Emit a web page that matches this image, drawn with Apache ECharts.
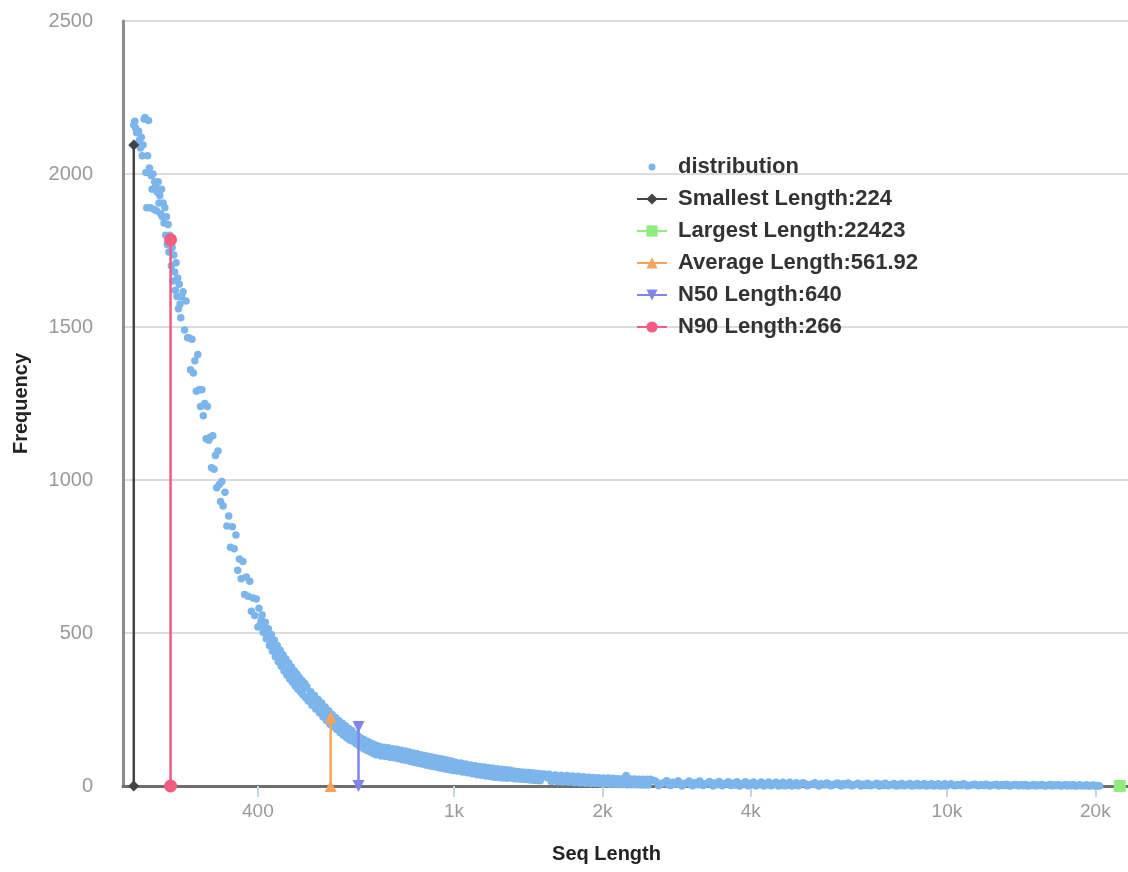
<!DOCTYPE html>
<html><head><meta charset="utf-8">
<script src="https://cdn.jsdelivr.net/npm/echarts@6/dist/echarts.min.js"></script>
<style>html,body{margin:0;padding:0;background:#fff}#c{width:1128px;height:872px}</style>
</head><body><div id="c"></div>
<script>
// ---- axis ticks ----
const xTickValues = [400, 1000, 2000, 4000, 10000, 20000];
const yTickStep = 500;
const yMaxValue = 2500;

// ---- summary statistics ----
const statNames = ['Smallest Length', 'Largest Length', 'Average Length', 'N50 Length', 'N90 Length'];
const statLengths = [224, 22423, 561.92, 640, 266];
const statTops = [2095, 0, 225, 193, 1785];

// ---- distribution (length -> frequency) ----
const lenA = [224,225,226,227,228,229,230,231,232,233,234,235,236,237,238,239,240,241,242,243,244,245,246,247,248,249,250,251,252,253,254,255,256,257,258,259,260,261,262,263,264,265,266,267,268,269,270,271,272,273,274,275,276,277,278,279,280];
const freqA = [2160,2172,2150,2135,2100,2140,2110,2085,2120,2060,2095,2180,2185,2005,1890,2060,2175,2020,1890,1995,1950,2000,1885,1975,1960,1880,1940,1975,1905,1930,1870,1950,1860,1905,1840,1890,1800,1860,1770,1835,1745,1800,1790,1700,1760,1650,1735,1680,1620,1710,1600,1660,1560,1640,1575,1530,1600];
const lenB = [282,284,286,288,290,292,294,296,298,300,302,304,306,308,310,312,314,316,318,320,322,324,326,328,330,332,334,336,338,340];
const freqB = [1615,1490,1585,1465,1465,1360,1460,1350,1390,1290,1410,1295,1240,1295,1210,1250,1135,1240,1130,1140,1040,1145,1035,1080,975,1095,985,930,995,915];
const lenC = [343,346,349,352,355,358,361,364,367,370,373,376,379,382,385,388,391,394,397,400];
const freqC = [960,850,882,780,847,775,820,705,742,677,734,626,683,620,669,571,614,557,611,520];
const lenD = [402,404,406,408,410,412,414,416,418,420,422,424,426,428,430,432,434,436,438,440,442,444,446,448,450,452,454,456,458,460,462,464,466,468,470,472,474,476,478,480,482,484,486,488,490,492,494,496,498,500];
const freqD = [581,526,542,559,502,520,535,481,495,514,459,478,495,441,458,476,422,442,459,406,425,444,391,408,429,376,395,415,362,383,402,350,370,389,339,358,377,327,347,366,316,336,354,307,325,344,297,317,335,288];
const lenE = [503,506,509,512,515,518,521,524,527,530,533,536,539,542,545,548,551,554,557,560,563,566,569,572,575,578,581,584,587,590,593,596,599,602,605,608,611,614,617,620,623,626,629,632,635,638,641,644,647,650,653,656,659,662,665,668,671,674,677,680,683,686,689,692,695,698,701];
const freqE = [324,278,293,308,264,282,296,252,270,283,239,257,271,226,244,258,214,232,246,202,219,234,194,211,224,185,201,214,175,192,205,166,184,197,158,175,189,150,168,181,146,161,171,139,154,164,132,146,157,125,141,152,120,136,147,115,130,142,111,126,138,106,122,134,102,118,130];
const lenF = [706,711,716,721,726,731,736,741,746,751,756,761,766,771,776,781,786,791,796,801,806,811,816,821,826,831,836,841,846,851,856,861,866,871,876,881,886,891,896,901,906,911,916,921,926,931,936,941,946,951,956,961,966,971,976,981,986,991,996,1001];
const freqF = [129,98,114,127,96,111,125,94,109,122,92,107,120,89,105,117,86,101,114,83,98,111,80,95,108,77,92,105,74,89,102,72,87,100,69,84,97,66,82,95,64,79,92,62,77,90,59,74,88,57,72,86,55,70,83,53,68,81,51,66];
const lenG = [1008,1016,1024,1032,1040,1048,1056,1064,1072,1080,1088,1096,1104,1112,1120,1128,1136,1144,1152,1160,1168,1176,1184,1192,1200,1208,1216,1224,1232,1240,1248,1256,1264,1272,1280,1288,1296,1304,1312,1320,1328,1336,1344,1352,1360,1368,1376,1384,1392,1400,1408,1416,1424,1432,1440,1448,1456,1464,1472,1480,1488,1496,1504];
const freqG = [78,49,62,75,46,59,72,43,56,69,40,53,66,37,50,64,35,48,62,33,46,60,31,45,58,29,43,56,28,41,55,26,40,53,25,38,52,26,37,49,24,36,47,23,35,46,22,34,45,21,33,44,20,32,43,19,30,42,18,29,41,17,28];
const lenH = [1515,1530,1545,1560,1575,1590,1605,1620,1635,1650,1665,1680,1695,1710,1725,1740,1755,1770,1785,1800,1815,1830,1845,1860,1875,1890,1905,1920,1935,1950,1965,1980,1995,2010,2025,2040,2055,2070,2085,2100,2115,2130,2145,2160,2175,2190,2205,2220,2235,2250,2265,2280,2295,2310,2325,2340,2355,2370,2385,2400,2415,2430,2445,2460,2475,2490,2505];
const freqH = [39,38,27,38,15,26,36,14,25,35,13,23,34,12,22,33,11,21,32,10,20,30,9,19,29,8,19,28,8,18,27,7,18,26,7,17,26,6,16,25,6,16,24,5,15,24,5,15,34,4,14,23,4,14,23,4,14,22,3,13,22,3,13,22,3,13,22];
const lenI = [2550,2600,2650,2700,2750,2800,2850,2900,2950,3000,3050,3100,3150,3200,3250,3300,3350,3400,3450,3500,3550,3600,3650,3700,3750,3800,3850,3900,3950,4000,4050,4100,4150,4200,4250,4300,4350,4400,4450,4500,4550,4600,4650,4700,4750,4800,4850,4900,4950,5000];
const freqI = [18,1,9,17,2,9,17,0,9,16,1,8,16,2,8,15,0,8,15,1,8,14,2,7,14,0,7,14,1,7,13,1,7,13,0,6,13,1,6,12,0,6,12,1,6,12,0,6,11,1];
const lenI2 = [2575,2625,2675,2725,2775,2825,2875,2925,2975,3025,3075,3125,3175,3225,3275,3325,3375,3425,3475,3525,3575,3625,3675,3725,3775,3825,3875,3925,3975,4025,4075,4125,4175,4225,4275,4325,4375,4425,4475,4525,4575,4625,4675,4725,4775,4825,4875,4925,4975];
const freqI2 = [13,5,12,4,12,5,11,4,11,5,11,4,10,4,10,5,10,4,9,4,9,4,9,3,9,4,8,3,8,4,8,3,8,3,7,3,7,3,7,3,7,2,7,3,6,2,6,3,6];
const lenJ = [5100,5200,5300,5400,5500,5600,5700,5800,5900,6000,6100,6200,6300,6400,6500,6600,6700,6800,6900,7000,7100,7200,7300,7400,7500,7600,7700,7800,7900,8000,8100,8200,8300,8400,8500,8600,8700,8800,8900,9000,9100,9200,9300,9400,9500,9600,9700,9800,9900,10000];
const freqJ = [11,1,5,11,0,5,10,1,5,10,0,5,10,1,5,9,0,4,9,1,4,9,0,4,9,1,4,8,0,4,8,1,4,8,0,4,8,1,3,8,0,3,7,1,3,7,0,3,7,1];
const lenJ2 = [5150,5250,5350,5450,5550,5650,5750,5850,5950,6050,6150,6250,6350,6450,6550,6650,6750,6850,6950,7050,7150,7250,7350,7450,7550,7650,7750,7850,7950,8050,8150,8250,8350,8450,8550,8650,8750,8850,8950,9050,9150,9250,9350,9450,9550,9650,9750,9850,9950];
const freqJ2 = [8,3,7,3,7,3,7,2,7,3,7,3,6,2,6,3,6,2,6,3,6,2,6,2,5,3,5,2,5,2,5,3,5,2,5,2,5,2,4,2,4,2,4,1,4,2,4,1,4];
const lenK = [10200,10400,10600,10800,11000,11200,11400,11600,11800,12000,12200,12400,12600,12800,13000,13200,13400,13600,13800,14000,14200,14400,14600,14800,15000,15200,15400,15600,15800,16000,16200,16400,16600,16800,17000,17200,17400,17600,17800,18000,18200,18400,18600,18800,19000,19200,19400,19600,19800,20000,20200,20400];
const freqK = [7,1,3,7,0,3,6,1,3,6,0,3,6,1,3,6,0,3,5,1,3,5,0,2,5,1,2,5,0,2,5,1,2,4,0,2,4,1,2,4,0,2,4,1,2,4,0,2,3,1,2,0];
const lenK2 = [10100,10300,10500,10700,10900,11100,11300,11500,11700,11900,12100,12300,12500,12700,12900,13100,13300,13500,13700,13900,14100,14300,14500,14700,14900,15100,15300,15500,15700,15900,16100,16300,16500,16700,16900,17100,17300,17500,17700,17900,18100,18300,18500,18700,18900,19100,19300,19500,19700,19900,20100,20300];
const freqK2 = [5,2,5,2,5,2,4,2,4,2,4,2,4,1,4,2,4,1,4,2,4,1,3,2,3,1,3,2,3,1,3,1,3,2,3,1,3,1,3,1,3,1,2,1,2,1,2,1,2,1,2,1];

// ---- build ----
const lenBlocks = [lenA,lenB,lenC,lenD,lenE,lenF,lenG,lenH,lenI,lenI2,lenJ,lenJ2,lenK,lenK2];
const freqBlocks = [freqA,freqB,freqC,freqD,freqE,freqF,freqG,freqH,freqI,freqI2,freqJ,freqJ2,freqK,freqK2];
const distPoints = [];
lenBlocks.forEach((ls, b) => ls.forEach((l, i) => distPoints.push([l, freqBlocks[b][i]])));

const FONT = '"Liberation Sans", Arial, Helvetica, sans-serif';
const palette = ['#7cb5ec', '#434348', '#90ed7d', '#f7a35c', '#8085e9', '#f15c80'];
const statSymbols = ['diamond', 'rect', 'triangle', 'path://M0,0L10,0L5,9Z', 'circle'];
const statSymbolSizes = [11, 12, 12, 12, 13];

const statSeries = statNames.map((n, i) => {
  const data = statTops[i] > 0 ? [[statLengths[i], 0], [statLengths[i], statTops[i]]] : [[statLengths[i], 0]];
  return {
    name: n + ':' + statLengths[i],
    type: 'line',
    data: data,
    symbol: statSymbols[i],
    symbolSize: statSymbolSizes[i],
    showSymbol: true,
    showAllSymbol: true,
    clip: false,
    z: 5,
    lineStyle: { color: palette[i + 1], width: 2.5 },
    itemStyle: { color: palette[i + 1], opacity: 1 },
    emphasis: { disabled: true },
    animation: false
  };
});

const chart = echarts.init(document.getElementById('c'), null, { renderer: 'canvas' });
chart.setOption({
  animation: false,
  color: palette,
  grid: { left: 123, right: 0, top: 21, bottom: 86 },
  legend: {
    orient: 'vertical',
    left: 636,
    top: 156,
    padding: 0,
    itemWidth: 30,
    itemHeight: 14,
    itemGap: 10,
    selectedMode: false,
    textStyle: { fontFamily: FONT, fontSize: 22, fontWeight: 'bold', color: '#333', padding: [0, 0, 0, 6] },
    data: [{ name: 'distribution', icon: 'path://M0,0M30,14M11.5,7A3.5,3.5,0,1,0,18.5,7A3.5,3.5,0,1,0,11.5,7Z' }]
      .concat(statSeries.map(s => s.name))
  },
  xAxis: {
    type: 'log',
    logBase: 10,
    min: 213,
    max: 23300,
    name: 'Seq Length',
    nameLocation: 'middle',
    nameGap: 58,
    nameTextStyle: { fontFamily: FONT, fontSize: 20, fontWeight: 'bold', color: '#222', padding: [0, 38, 0, 0] },
    axisLine: { show: true, lineStyle: { color: '#6e6e6e', width: 3 } },
    axisTick: { show: true, customValues: xTickValues, length: 11, lineStyle: { color: '#c9d3e6', width: 2 } },
    axisLabel: {
      customValues: xTickValues,
      formatter: v => { const r = Math.round(v); return r >= 1000 ? (r / 1000) + 'k' : String(r); },
      color: '#999', fontSize: 19, fontFamily: FONT, margin: 16
    },
    splitLine: { show: false },
    minorTick: { show: false }
  },
  yAxis: {
    type: 'value',
    min: 0,
    max: yMaxValue,
    interval: yTickStep,
    name: 'Frequency',
    nameLocation: 'middle',
    nameGap: 92,
    nameRotate: 90,
    nameTextStyle: { fontFamily: FONT, fontSize: 20, fontWeight: 'bold', color: '#222' },
    axisLine: { show: true, lineStyle: { color: '#8c8c8c', width: 3 } },
    axisTick: { show: false },
    axisLabel: { color: '#999', fontSize: 20, fontFamily: FONT, margin: 30, formatter: v => String(v) },
    splitLine: { show: true, lineStyle: { color: '#dcdcdc', width: 2 } }
  },
  series: [{
    name: 'distribution',
    type: 'scatter',
    data: distPoints,
    symbol: 'circle',
    symbolSize: 7.5,
    itemStyle: { color: palette[0], opacity: 1 },
    emphasis: { disabled: true },
    z: 2,
    large: false
  }].concat(statSeries)
});
</script></body></html>
